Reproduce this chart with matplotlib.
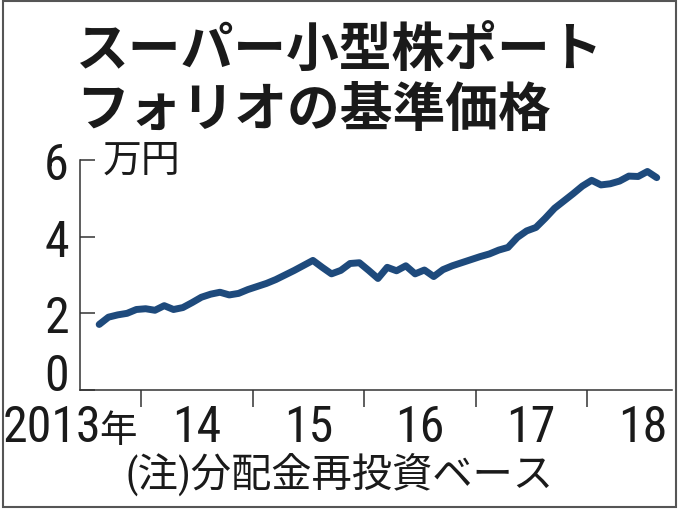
import matplotlib
matplotlib.use("Agg")
import matplotlib.pyplot as plt
from matplotlib.patches import Rectangle

# --- data (monthly, Aug 2013 - Aug 2018), 10k yen ---
start_year = 2013
start_month = 8
nav = [1.71, 1.90, 1.96, 2.00, 2.10, 2.12, 2.08, 2.20, 2.10, 2.15,
       2.28, 2.42, 2.50, 2.55, 2.48, 2.52, 2.62, 2.70, 2.78, 2.88,
       3.00, 3.12, 3.25, 3.38, 3.20, 3.03, 3.12, 3.30, 3.32, 3.12,
       2.91, 3.20, 3.11, 3.24, 3.03, 3.13, 2.96, 3.14, 3.24, 3.32,
       3.40, 3.48, 3.55, 3.65, 3.72, 3.98, 4.15, 4.24, 4.48, 4.74,
       4.93, 5.12, 5.32, 5.47, 5.35, 5.38, 5.45, 5.58, 5.57, 5.70,
       5.54]
year_labels = ["14", "15", "16", "17", "18"]
first_label = "2013年"
y_ticks = [0, 2, 4, 6]

title_lines = ["スーパー小型株ポート", "フォリオの基準価格"]
unit_label = "万円"
note = "(注)分配金再投資ベース"

# x position of each month (mid-month, fractional year)
x = []
for i in range(len(nav)):
    m = start_month - 1 + i
    x.append(start_year + m // 12 + (m % 12 + 0.5) / 12)

num_font = "Roboto Condensed"
jp = "Noto Sans CJK JP"
plt.rcParams["font.family"] = [num_font, jp, "DejaVu Sans"]

line_color = "#1e4a7c"
ink = "#1a1a1a"
num_size = 36
label_drop = 37  # points from spine down to label baseline

fig = plt.figure(figsize=(6.8, 5.1), dpi=100)
ax = fig.add_axes([80 / 680, 1 - 391 / 510, 592 / 680, 230 / 510])

ax.plot(x, nav, color=line_color, lw=5, solid_capstyle="round",
        solid_joinstyle="round")

ax.set_xlim(2013.453, 2018.762)
ax.set_ylim(0, 6)

for s in ["top", "right"]:
    ax.spines[s].set_visible(False)
for s in ["left", "bottom"]:
    ax.spines[s].set_color("#333333")
    ax.spines[s].set_linewidth(1.1)

ax.set_yticks(y_ticks)
ax.set_yticklabels([str(v) for v in y_ticks], fontsize=num_size, color=ink)
ax.tick_params(axis="y", direction="in", length=10.5, width=1.1,
               color="#333333", pad=8)
# the zero sits on the axis line
ax.get_yticklabels()[0].set_verticalalignment("baseline")

# year boundaries as major ticks, labels at mid-year
ax.set_xticks([2014, 2015, 2016, 2017, 2018])
ax.set_xticklabels([])
ax.tick_params(axis="x", which="major", direction="out", length=12,
               width=1.1, color="#333333")
ax.set_xticks([2014.5, 2015.5, 2016.5, 2017.5, 2018.5], minor=True)
ax.set_xticklabels(year_labels, minor=True, fontsize=num_size, color=ink)
ax.tick_params(axis="x", which="minor", length=0, pad=label_drop)
for lab in ax.get_xticklabels(minor=True):
    lab.set_verticalalignment("baseline")

# "2013年": the kanji is set narrower, like the newspaper original
nen = ax.annotate(first_label[-1], xy=(2014 - 0.035, 0),
                  xycoords=ax.get_xaxis_transform(),
                  xytext=(0, -label_drop), textcoords="offset points",
                  ha="right", va="baseline", fontsize=27, color=ink, family=jp)
ax.annotate(first_label[:-1], xy=(2014 - 0.035, 0),
            xycoords=ax.get_xaxis_transform(),
            xytext=(-26, -label_drop), textcoords="offset points",
            ha="right", va="baseline", fontsize=num_size, color=ink)

ax.text(0.039, 6, unit_label, transform=ax.get_yaxis_transform(),
        ha="left", va="center", fontsize=28, color=ink, family=jp)

fig.text(76 / 680, 1 - 50 / 510, title_lines[0], ha="left", va="center",
         fontsize=38, fontweight="bold", color=ink, family=jp)
fig.text(76 / 680, 1 - 110 / 510, title_lines[1], ha="left", va="center",
         fontsize=38, fontweight="bold", color=ink, family=jp)

fig.text(125 / 680, 1 - 474 / 510, note, ha="left", va="center",
         fontsize=29, color=ink, family=[num_font, jp])

fig.patches.append(Rectangle((0.004, 0.004), 0.99, 0.992, transform=fig.transFigure,
                             fill=False, edgecolor="#555555", lw=1.5))

fig.savefig("out.png", dpi=100)
